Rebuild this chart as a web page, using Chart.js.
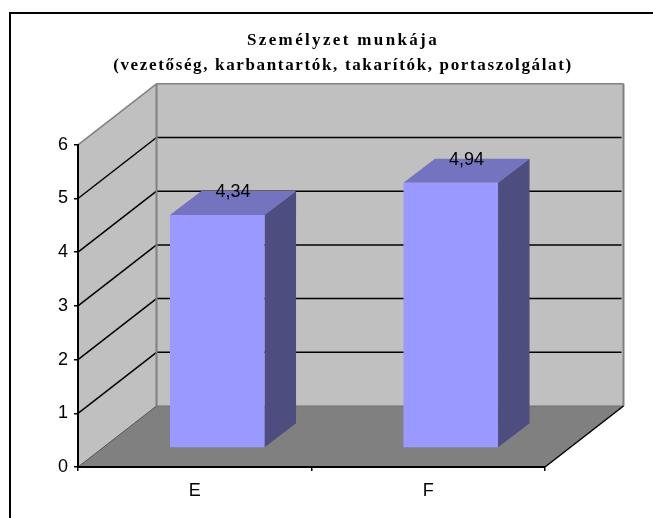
<!DOCTYPE html>
<html>
<head>
<meta charset="utf-8">
<title>Személyzet munkája</title>
<style>
  html, body { margin: 0; padding: 0; background: #fff; overflow: hidden; }
  canvas { display: block; }
</style>
<script src="https://cdn.jsdelivr.net/npm/chart.js@4/dist/chart.umd.js"></script>
</head>
<body>
<canvas id="chart" width="653" height="518"></canvas>
<script>
const categories = ["E", "F"];
const values = [4.34, 4.94];
const titleText = "Személyzet munkája";
const subtitleText = "(vezetőség, karbantartók, takarítók, portaszolgálat)";
const yMin = 0;
const yMax = 6;

// depth of the fake 3D box, in pixels
const depthX = 78.5;
const depthY = -61;
// bars sit a bit behind the front edge and are not as deep as the floor
const barShiftX = 22.5;
const barShiftY = -19;
const barDepthX = 31.5;
const barDepthY = -24;

const poly = (ctx, pts, fill) => {
  ctx.beginPath();
  pts.forEach((p, i) => (i ? ctx.lineTo(p[0], p[1]) : ctx.moveTo(p[0], p[1])));
  ctx.closePath();
  ctx.fillStyle = fill;
  ctx.fill();
};

const line = (ctx, x1, y1, x2, y2, color, width) => {
  ctx.beginPath();
  ctx.moveTo(x1, y1);
  ctx.lineTo(x2, y2);
  ctx.strokeStyle = color;
  ctx.lineWidth = width;
  ctx.stroke();
};

const box3d = {
  id: "box3d",
  afterLayout(chart) {
    // both title lines are centred over the plot including its depth, and spaced out
    chart.boxes
      .filter((b) => b.options && b.options.text)
      .forEach((t) => {
        t.left = 33;
        t.right = 653;
        if (t.spaced) return;
        const spacing = t.options.text === titleText ? "2.35px" : "1.65px";
        const draw = t.draw.bind(t);
        t.draw = () => {
          chart.ctx.letterSpacing = spacing;
          draw();
          chart.ctx.letterSpacing = "0px";
        };
        t.spaced = true;
      });
  },
  beforeDraw(chart) {
    const { ctx, chartArea: a, scales } = chart;
    const y = scales.y;
    const l = a.left, r = a.right, top = a.top, bot = a.bottom;

    ctx.save();
    ctx.fillStyle = "#000";
    ctx.fillRect(9, 12, 644, 2);
    ctx.fillRect(9, 12, 2, 506);

    poly(ctx, [[l, top], [l + depthX, top + depthY], [l + depthX, bot + depthY], [l, bot]], "#c0c0c0");
    poly(ctx, [[l + depthX, top + depthY], [r + depthX, top + depthY], [r + depthX, bot + depthY], [l + depthX, bot + depthY]], "#c0c0c0");
    poly(ctx, [[l, bot], [l + depthX, bot + depthY], [r + depthX, bot + depthY], [r, bot]], "#808080");

    y.ticks.forEach((tick) => {
      if (tick.value === yMin || tick.value === yMax) return;
      const py = y.getPixelForValue(tick.value);
      line(ctx, l, py, l + depthX, py + depthY, "#000", 1.5);
      line(ctx, l + depthX, py + depthY, r + depthX - 2, py + depthY, "#000", 1.5);
    });

    line(ctx, l, top, l + depthX, top + depthY, "#808080", 1.5);
    line(ctx, l + depthX, top + depthY, r + depthX, top + depthY, "#808080", 1.5);
    line(ctx, l + depthX, top + depthY, l + depthX, bot + depthY, "#808080", 2);
    line(ctx, r + depthX, top + depthY, r + depthX, bot + depthY, "#808080", 2);
    line(ctx, l + depthX, bot + depthY, r + depthX, bot + depthY, "#707070", 1);
    line(ctx, l, bot, l + depthX, bot + depthY, "#505050", 1);
    line(ctx, r, bot, r + depthX, bot + depthY, "#000", 1.5);
    ctx.restore();
  },
  beforeDatasetDraw(chart, args) {
    const { ctx } = chart;
    args.meta.data.forEach((el) => {
      const x0 = el.x - el.width / 2 + barShiftX;
      const x1 = el.x + el.width / 2 + barShiftX;
      const yt = el.y + barShiftY;
      const yb = el.base + barShiftY;
      poly(ctx, [[x0, yt], [x0 + barDepthX, yt + barDepthY], [x1 + barDepthX, yt + barDepthY], [x1, yt]], "#7373bf");
      poly(ctx, [[x1, yt], [x1 + barDepthX, yt + barDepthY], [x1 + barDepthX, yb + barDepthY], [x1, yb]], "#4d4d80");
    });
    ctx.save();
    ctx.translate(barShiftX, barShiftY);
  },
  afterDatasetDraw(chart) {
    chart.ctx.restore();
  },
  afterDatasetsDraw(chart) {
    const { ctx } = chart;
    const meta = chart.getDatasetMeta(0);
    ctx.save();
    ctx.font = "18px 'Liberation Sans', Arial, sans-serif";
    ctx.fillStyle = "#000";
    ctx.textAlign = "center";
    ctx.textBaseline = "middle";
    meta.data.forEach((el, i) => {
      const label = values[i].toFixed(2).replace(".", ",");
      ctx.fillText(label, el.x + barShiftX + barDepthX / 2, el.y + barShiftY + barDepthY + 1);
    });
    ctx.restore();
  },
};

const tickFont = { family: "'Liberation Sans', Arial, sans-serif", size: 18 };
const titleFont = { family: "'Liberation Serif', 'Times New Roman', serif", size: 17, weight: "bold", lineHeight: 1.2 };

new Chart(document.getElementById("chart"), {
  type: "bar",
  data: {
    labels: categories,
    datasets: [
      {
        data: values,
        backgroundColor: "#9999ff",
        borderWidth: 0,
        barPercentage: 0.405,
        categoryPercentage: 1,
        clip: false,
      },
    ],
  },
  options: {
    responsive: false,
    animation: false,
    layout: { padding: { left: 0, right: 108, top: 0, bottom: 0 } },
    plugins: {
      legend: { display: false },
      tooltip: { enabled: false },
      title: {
        display: true,
        text: titleText,
        color: "#000",
        font: titleFont,
        padding: { top: 30, bottom: 5 },
      },
      subtitle: {
        display: true,
        text: subtitleText,
        color: "#000",
        font: titleFont,
        padding: { top: 0, bottom: 69 },
      },
    },
    scales: {
      x: {
        grid: { drawOnChartArea: false, color: "#000", lineWidth: 1.5, tickLength: 4 },
        border: { color: "#000", width: 2 },
        ticks: { color: "#000", font: tickFont, padding: 9 },
        afterFit(scale) {
          scale.height = 51;
        },
      },
      y: {
        min: yMin,
        max: yMax,
        grid: { drawOnChartArea: false, color: "#000", lineWidth: 1.5, tickLength: 4 },
        border: { color: "#000", width: 2 },
        ticks: { color: "#000", font: tickFont, stepSize: 1, padding: 6 },
        afterFit(scale) {
          scale.width = 78;
        },
      },
    },
  },
  plugins: [box3d],
});
</script>
</body>
</html>
